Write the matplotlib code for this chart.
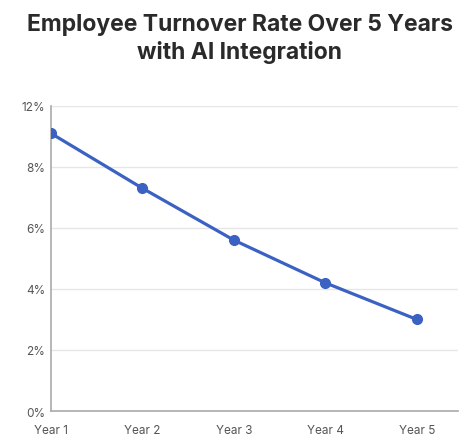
import numpy as np
import matplotlib.pyplot as plt

years = ["Year 1", "Year 2", "Year 3", "Year 4", "Year 5"]
turnover = [9.1, 7.3, 5.6, 4.2, 3.0]
yticks = [0, 2, 4, 6, 8, 10]
ytick_labels = ["0%", "2%", "4%", "6%", "8%", "12%"]

plt.rcParams['font.family'] = ['Inter', 'DejaVu Sans']

fig = plt.figure(figsize=(4.61, 4.39), dpi=100)
ax = fig.add_axes([0.1106, 0.0615, 0.883, 0.695])

x = np.arange(len(years))
ax.plot(x, turnover, color='#3b62c2', lw=2.3, marker='o', ms=7, zorder=3)

ax.set_xlim(0, 4.45)
ax.set_ylim(0, 10)
ax.set_xticks(x)
ax.set_xticklabels(years)
ax.set_yticks(yticks)
ax.set_yticklabels(ytick_labels)
ax.tick_params(length=0, labelsize=8.5, colors='#555555', pad=4)
ax.tick_params(axis='x', pad=9)
ax.grid(axis='y', color='#e6e6e6', lw=1)
ax.set_axisbelow(True)
for s in ['top', 'right']:
    ax.spines[s].set_visible(False)
for s in ['left', 'bottom']:
    ax.spines[s].set_color('#aaaaaa')
    ax.spines[s].set_linewidth(1.2)

fig.text(0.52, 0.968, "Employee Turnover Rate Over 5 Years\nwith AI Integration",
         ha='center', va='top', fontsize=16.5, fontweight='bold', color='#2a2a2a',
         linespacing=1.25)

fig.savefig("out.png", dpi=100)
